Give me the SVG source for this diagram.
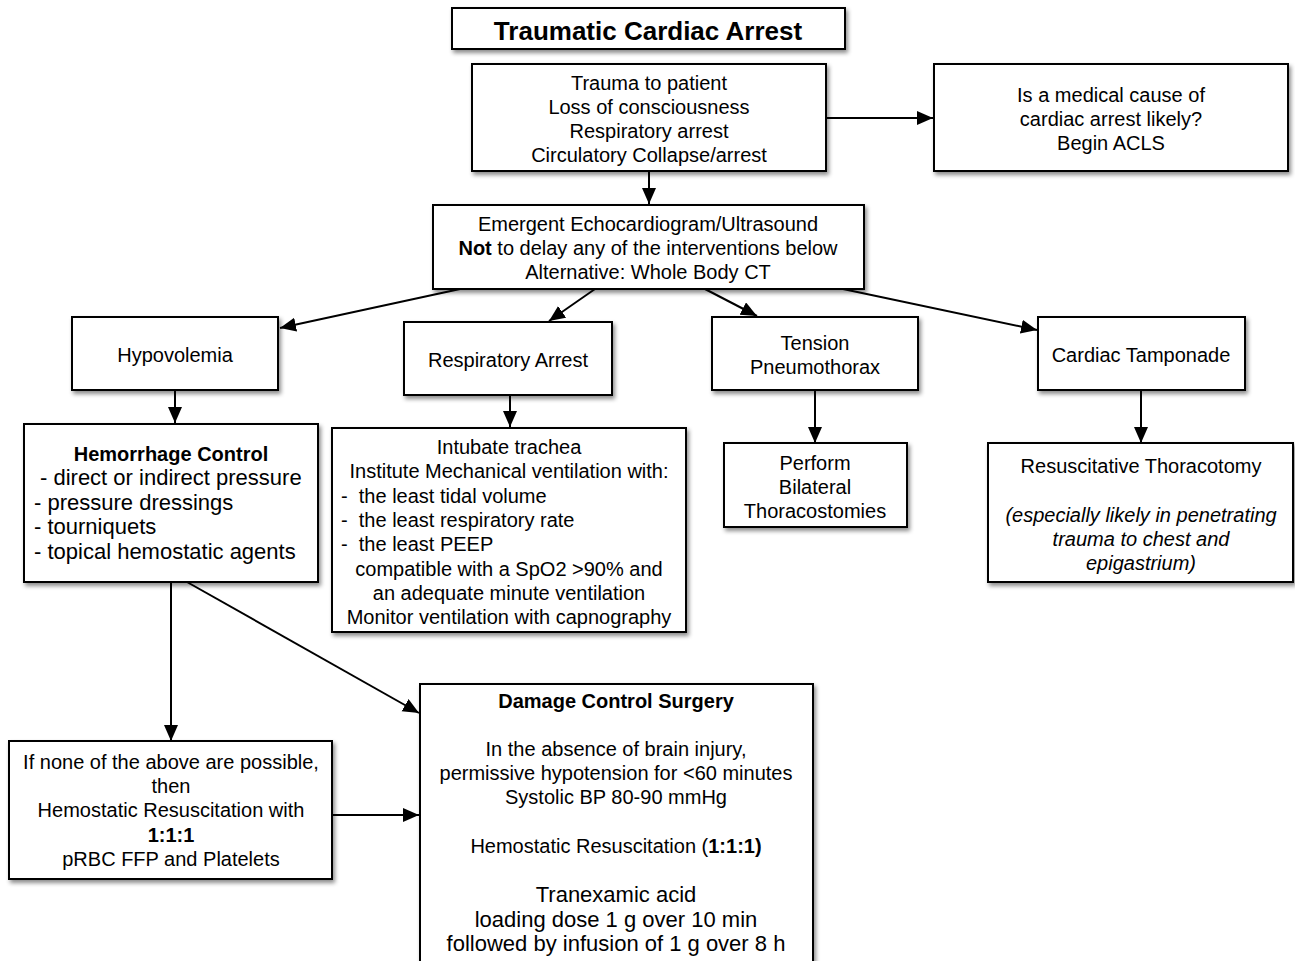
<svg xmlns="http://www.w3.org/2000/svg" width="1295" height="961" viewBox="0 0 1295 961">
  <style>
    .box { fill: #ffffff; stroke: #000000; stroke-width: 2; filter: url(#shadow); }
    .t { font-family: "Liberation Sans", Arial, sans-serif; font-size: 20px; fill: #000000; text-anchor: middle; }
    .l { text-anchor: start; }
    .b { font-weight: bold; }
    .i { font-style: italic; }
    .big { font-size: 22px; }
    .edge { stroke: #000000; stroke-width: 2; fill: none; marker-end: url(#arrow); }
  </style>
  <defs>
    <filter id="shadow" x="-10%" y="-10%" width="120%" height="130%">
      <feDropShadow dx="2" dy="3" stdDeviation="2" flood-color="#000000" flood-opacity="0.45"/>
    </filter>
    <marker id="arrow" markerUnits="userSpaceOnUse" markerWidth="17" markerHeight="15" refX="16" refY="7" orient="auto">
      <path d="M0,0 L16,7 L0,14 z" fill="#000000"/>
    </marker>
  </defs>
  <rect width="1295" height="961" fill="#ffffff"/>

  <g id="connectors">
    <line class="edge" x1="826" y1="118" x2="933" y2="118"/>
    <line class="edge" x1="649" y1="171" x2="649" y2="204"/>
    <line class="edge" x1="460" y1="289" x2="280" y2="328"/>
    <line class="edge" x1="595" y1="289" x2="549" y2="321"/>
    <line class="edge" x1="705" y1="289" x2="757" y2="316"/>
    <line class="edge" x1="843" y1="289" x2="1037" y2="330"/>
    <line class="edge" x1="175" y1="390" x2="175" y2="423"/>
    <line class="edge" x1="510" y1="395" x2="510" y2="427"/>
    <line class="edge" x1="815" y1="390" x2="815" y2="443"/>
    <line class="edge" x1="1141" y1="390" x2="1141" y2="443"/>
    <line class="edge" x1="171" y1="582" x2="171" y2="741"/>
    <line class="edge" x1="187" y1="582" x2="419" y2="713"/>
    <line class="edge" x1="333" y1="815" x2="419" y2="815"/>
  </g>

  <g id="title">
    <rect class="box" x="452" y="8" width="393" height="41"/>
    <text class="t b" x="648" y="40" style="font-size:26px">Traumatic Cardiac Arrest</text>
  </g>

  <g id="presentation">
    <rect class="box" x="472" y="64" width="354" height="107"/>
    <text class="t" x="649" y="90">Trauma to patient</text>
    <text class="t" x="649" y="114">Loss of consciousness</text>
    <text class="t" x="649" y="138">Respiratory arrest</text>
    <text class="t" x="649" y="162">Circulatory Collapse/arrest</text>
  </g>

  <g id="medical-cause">
    <rect class="box" x="934" y="64" width="354" height="107"/>
    <text class="t" x="1111" y="102">Is a medical cause of</text>
    <text class="t" x="1111" y="126">cardiac arrest likely?</text>
    <text class="t" x="1111" y="150">Begin ACLS</text>
  </g>

  <g id="echo">
    <rect class="box" x="433" y="205" width="431" height="84"/>
    <text class="t" x="648" y="231">Emergent Echocardiogram/Ultrasound</text>
    <text class="t" x="648" y="255"><tspan class="b">Not</tspan> to delay any of the interventions below</text>
    <text class="t" x="648" y="279">Alternative: Whole Body CT</text>
  </g>

  <g id="hypovolemia">
    <rect class="box" x="72" y="317" width="206" height="73"/>
    <text class="t" x="175" y="362">Hypovolemia</text>
  </g>

  <g id="respiratory-arrest">
    <rect class="box" x="404" y="322" width="208" height="73"/>
    <text class="t" x="508" y="367">Respiratory Arrest</text>
  </g>

  <g id="tension-pneumothorax">
    <rect class="box" x="712" y="317" width="206" height="73"/>
    <text class="t" x="815" y="350">Tension</text>
    <text class="t" x="815" y="374">Pneumothorax</text>
  </g>

  <g id="cardiac-tamponade">
    <rect class="box" x="1038" y="317" width="207" height="73"/>
    <text class="t" x="1141" y="362">Cardiac Tamponade</text>
  </g>

  <g id="hemorrhage-control">
    <rect class="box" x="24" y="424" width="294" height="158"/>
    <text class="t b" x="171" y="461">Hemorrhage Control</text>
    <text class="t l big" x="40" y="485">- direct or indirect pressure</text>
    <text class="t l big" x="34" y="510">- pressure dressings</text>
    <text class="t l big" x="34" y="534">- tourniquets</text>
    <text class="t l big" x="34" y="559">- topical hemostatic agents</text>
  </g>

  <g id="ventilation">
    <rect class="box" x="332" y="428" width="354" height="204"/>
    <text class="t" x="509" y="454">Intubate trachea</text>
    <text class="t" x="509" y="478">Institute Mechanical ventilation with:</text>
    <text class="t l" x="341" y="503" xml:space="preserve">-  the least tidal volume</text>
    <text class="t l" x="341" y="527" xml:space="preserve">-  the least respiratory rate</text>
    <text class="t l" x="341" y="551" xml:space="preserve">-  the least PEEP</text>
    <text class="t" x="509" y="576">compatible with a SpO2 &gt;90% and</text>
    <text class="t" x="509" y="600">an adequate minute ventilation</text>
    <text class="t" x="509" y="624">Monitor ventilation with capnography</text>
  </g>

  <g id="thoracostomies">
    <rect class="box" x="724" y="443" width="183" height="84"/>
    <text class="t" x="815" y="470">Perform</text>
    <text class="t" x="815" y="494">Bilateral</text>
    <text class="t" x="815" y="518">Thoracostomies</text>
  </g>

  <g id="thoracotomy">
    <rect class="box" x="988" y="443" width="305" height="139"/>
    <text class="t" x="1141" y="473">Resuscitative Thoracotomy</text>
    <text class="t i" x="1141" y="522">(especially likely in penetrating</text>
    <text class="t i" x="1141" y="546">trauma to chest and</text>
    <text class="t i" x="1141" y="570">epigastrium)</text>
  </g>

  <g id="hemostatic-resuscitation">
    <rect class="box" x="9" y="741" width="323" height="138"/>
    <text class="t" x="171" y="769">If none of the above are possible,</text>
    <text class="t" x="171" y="793">then</text>
    <text class="t" x="171" y="817">Hemostatic Resuscitation with</text>
    <text class="t b" x="171" y="842">1:1:1</text>
    <text class="t" x="171" y="866">pRBC FFP and Platelets</text>
  </g>

  <g id="damage-control">
    <rect class="box" x="420" y="684" width="393" height="290"/>
    <text class="t b" x="616" y="708">Damage Control Surgery</text>
    <text class="t" x="616" y="756">In the absence of brain injury,</text>
    <text class="t" x="616" y="780">permissive hypotension for &lt;60 minutes</text>
    <text class="t" x="616" y="804">Systolic BP 80-90 mmHg</text>
    <text class="t" x="616" y="853">Hemostatic Resuscitation (<tspan class="b">1:1:1)</tspan></text>
    <text class="t big" x="616" y="902">Tranexamic acid</text>
    <text class="t big" x="616" y="927">loading dose 1 g over 10 min</text>
    <text class="t big" x="616" y="951">followed by infusion of 1 g over 8 h</text>
  </g>
</svg>
